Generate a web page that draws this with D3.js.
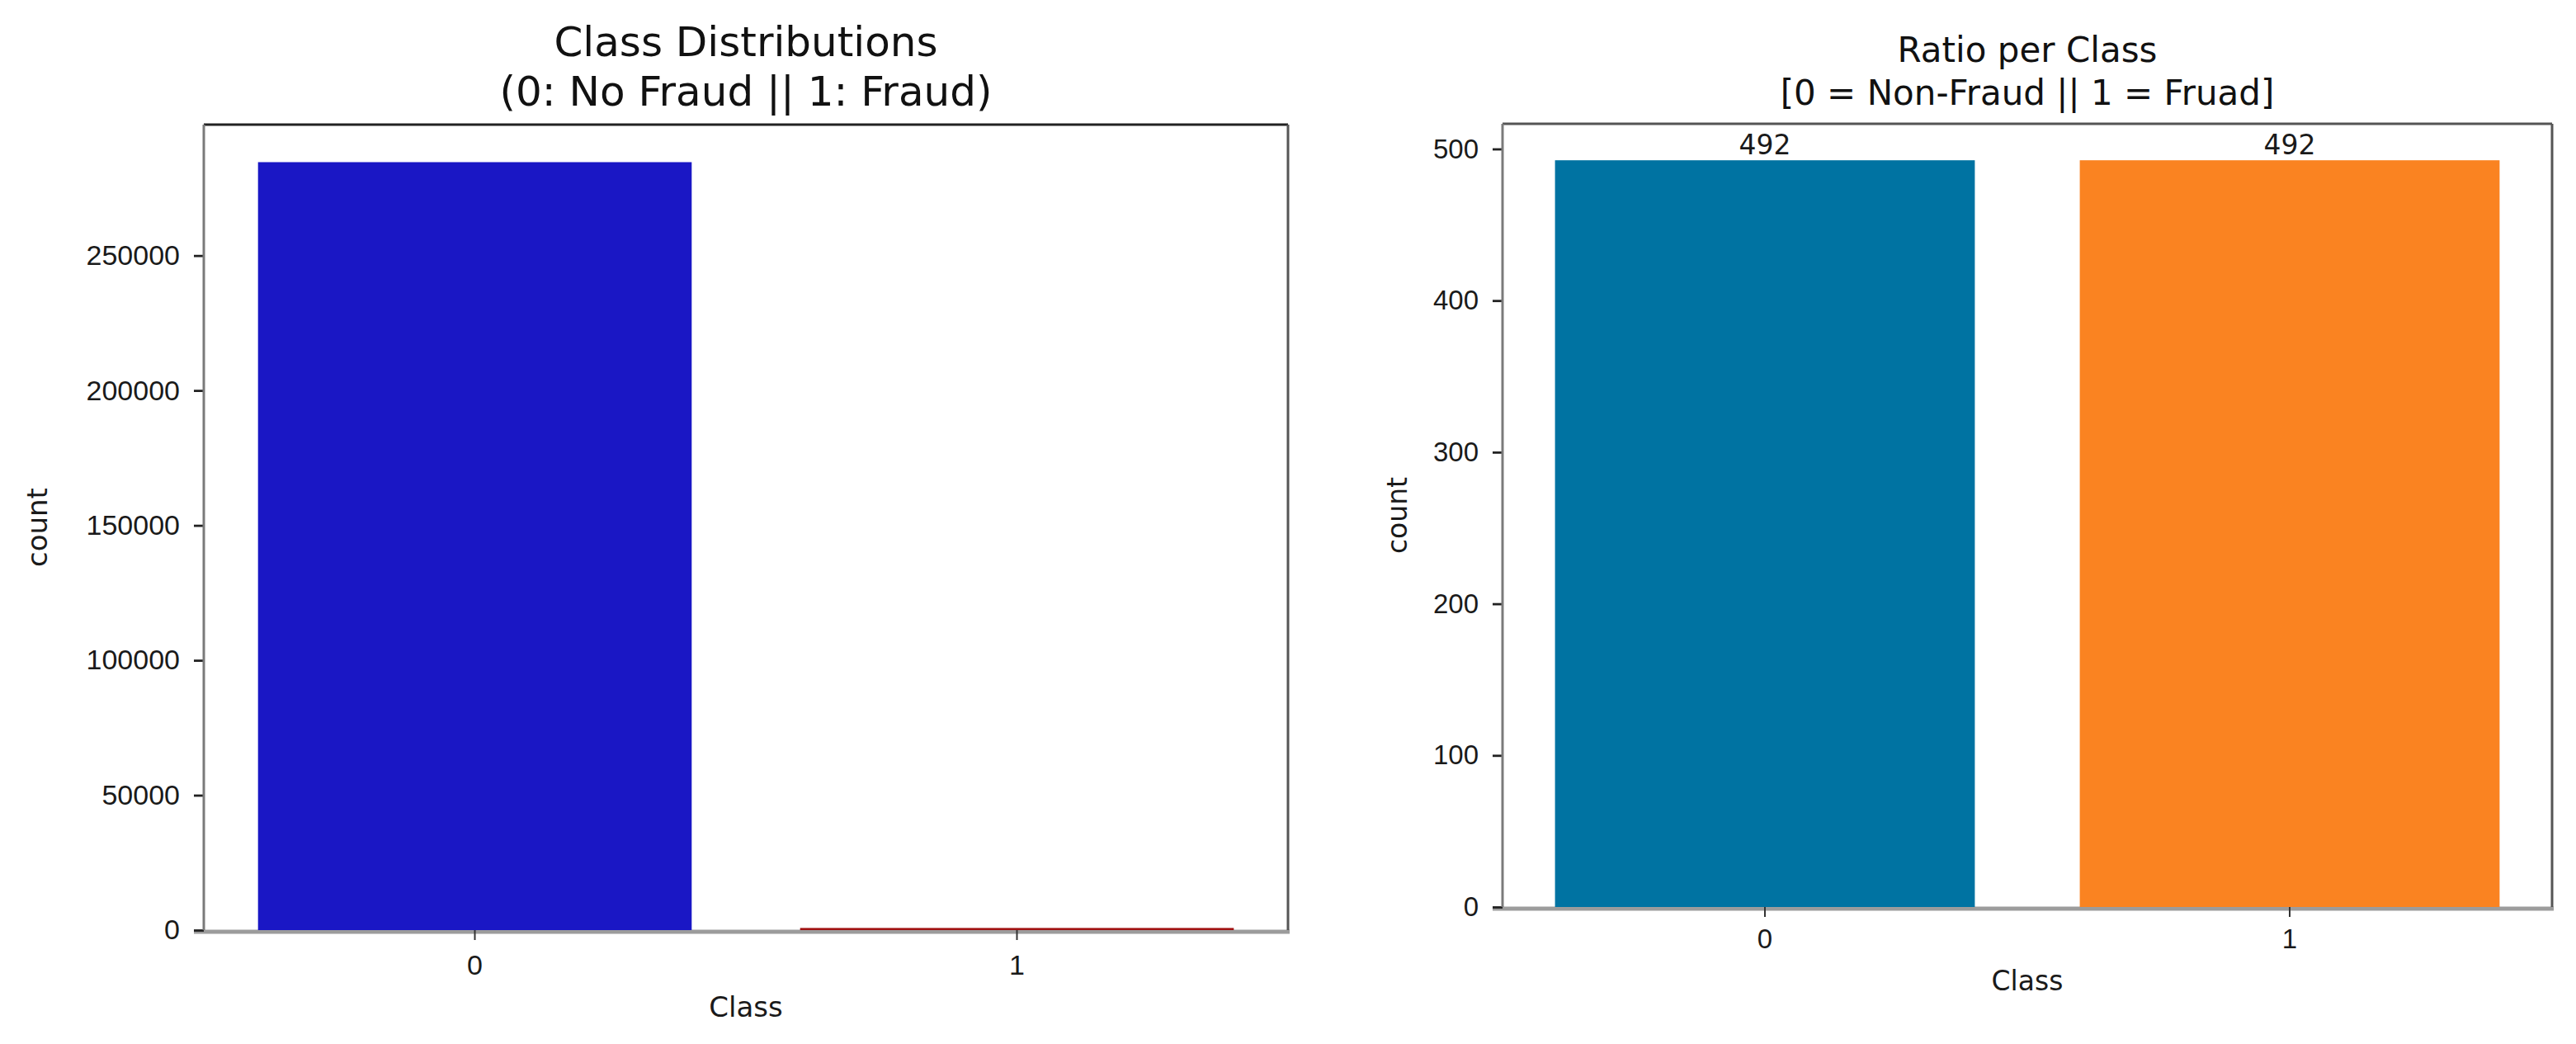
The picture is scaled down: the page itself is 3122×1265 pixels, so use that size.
<!DOCTYPE html>
<meta charset="utf-8">
<style>
body { margin: 0; background: #fff; }
svg { display: block; font-family: "DejaVu Sans", sans-serif; }
.tick text { fill: #1a1a1a; }
.tick line { stroke: #222; stroke-width: 2.8px; }
.axis path.domain { display: none; }
</style>
<body>
<script src="https://d3js.org/d3.v7.min.js"></script>
<script>

// data
var classes = ["0", "1"];
var fullCounts = [284315, 492];
var sampleCounts = [492, 492];
var fullTicks = [0, 50000, 100000, 150000, 200000, 250000];
var sampleTicks = [0, 100, 200, 300, 400, 500];
var fullColors = ["#1a17c5", "#a11212"];
var sampleColors = ["#0073a2", "#fa8321"];

var svg = d3.select("body").append("svg")
    .attr("width", 3122)
    .attr("height", 1265);

// one panel = one bar chart with a box frame
function panel(opt) {
  var box = opt.box;

  var x = d3.scaleBand()
      .domain(classes)
      .range([box.left, box.right])
      .paddingInner(0.2)
      .paddingOuter(0.1);

  var y = d3.scaleLinear()
      .domain([0, d3.max(opt.values) * 1.05])
      .range([box.bottom, box.top]);

  var g = svg.append("g");

  // bottom spine first, so the thin bar stays visible on top of it
  g.append("line").attr("x1", box.left - 12).attr("x2", box.right + 2)
      .attr("y1", box.bottom + 2).attr("y2", box.bottom + 2)
      .style("stroke", "rgba(90,90,90,0.6)").style("stroke-width", 5);

  // bars
  g.selectAll("rect.bar")
      .data(opt.values)
    .enter().append("rect")
      .attr("class", "bar")
      .attr("x", function(d, i) { return x(classes[i]); })
      .attr("width", x.bandwidth())
      .attr("y", function(d) { return y(d) - 1; })
      .attr("height", function(d) { return box.bottom - y(d) + 1; })
      .attr("fill", function(d, i) { return opt.colors[i]; });

  // value labels on top of bars
  if (opt.labels) {
    g.selectAll("text.val")
        .data(opt.values)
      .enter().append("text")
        .attr("class", "val")
        .attr("x", function(d, i) { return x(classes[i]) + x.bandwidth() / 2; })
        .attr("y", function(d) { return y(d) - 8; })
        .attr("text-anchor", "middle")
        .style("font-size", opt.tickSize + "px")
        .style("fill", "#1a1a1a")
        .text(function(d) { return d; });
  }

  // y axis
  g.append("g")
      .attr("class", "axis")
      .attr("transform", "translate(" + box.left + ",0)")
      .call(d3.axisLeft(y).tickValues(opt.ticks).tickSize(12).tickPadding(17)
              .tickFormat(d3.format("d")))
      .selectAll("text").style("font-size", opt.tickSize + "px");

  // x axis
  var xa = g.append("g")
      .attr("class", "axis")
      .attr("transform", "translate(0," + box.bottom + ")")
      .call(d3.axisBottom(x).tickSize(12).tickPadding(opt.xPad));
  xa.selectAll("text").style("font-size", opt.tickSize + "px");
  xa.selectAll("line").style("stroke-width", "2px").style("stroke", "#333");

  // rest of the frame
  g.append("line").attr("x1", box.left).attr("x2", box.right)
      .attr("y1", box.top).attr("y2", box.top)
      .style("stroke", opt.topColor).style("stroke-width", 3);
  g.append("line").attr("x1", box.right).attr("x2", box.right)
      .attr("y1", box.top).attr("y2", box.bottom)
      .style("stroke", "#555").style("stroke-width", 3);
  g.append("line").attr("x1", box.left).attr("x2", box.left)
      .attr("y1", box.top).attr("y2", box.bottom)
      .style("stroke", "#7a7a7a").style("stroke-width", 3);

  // titles and axis labels
  var cx = (box.left + box.right) / 2;
  opt.title.forEach(function(t, i) {
    g.append("text")
        .attr("x", cx)
        .attr("y", opt.titleY[i])
        .attr("text-anchor", "middle")
        .style("font-size", opt.titleSize + "px")
        .style("fill", "#111")
        .text(t);
  });

  g.append("text")
      .attr("x", cx)
      .attr("y", opt.xLabelY)
      .attr("text-anchor", "middle")
      .style("font-size", opt.tickSize + "px")
      .style("fill", "#1a1a1a")
      .text("Class");

  g.append("text")
      .attr("transform", "translate(" + opt.yLabelX + "," + ((box.top + box.bottom) / 2) + ") rotate(-90)")
      .attr("text-anchor", "middle")
      .attr("dy", "0.35em")
      .style("font-size", opt.tickSize + "px")
      .style("fill", "#1a1a1a")
      .text("count");
}

panel({
  box: {left: 247, right: 1561, top: 151, bottom: 1127},
  values: fullCounts,
  colors: fullColors,
  ticks: fullTicks,
  tickSize: 34,
  xPad: 18,
  titleSize: 50,
  title: ["Class Distributions", "(0: No Fraud || 1: Fraud)"],
  titleY: [68, 128],
  topColor: "#222",
  xLabelY: 1232,
  yLabelX: 45,
  labels: false
});

panel({
  box: {left: 1821, right: 3093, top: 150, bottom: 1099},
  values: sampleCounts,
  colors: sampleColors,
  ticks: sampleTicks,
  tickSize: 33,
  xPad: 15,
  titleSize: 42,
  title: ["Ratio per Class", "[0 = Non-Fraud || 1 = Fruad]"],
  titleY: [75, 127],
  topColor: "#555",
  xLabelY: 1200,
  yLabelX: 1693,
  labels: true
});

</script>
</body>
